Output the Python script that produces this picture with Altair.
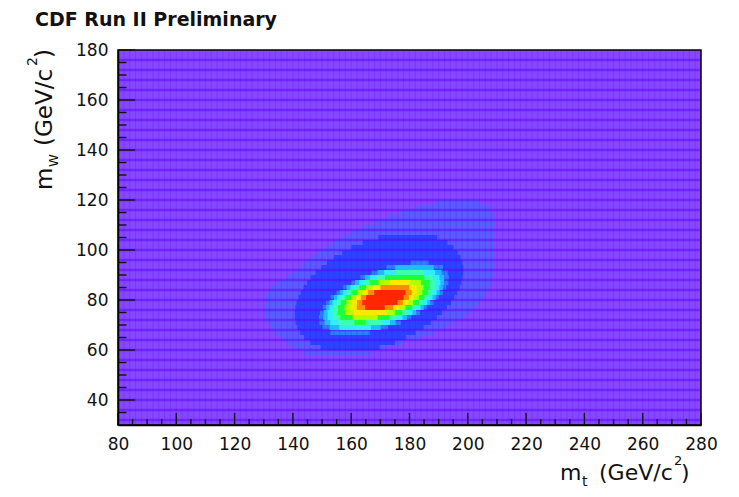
import altair as alt
import pandas as pd

# ---------------- axes ----------------
X_DOMAIN = [80, 280]
Y_DOMAIN = [30, 180]
X_LABEL_VALUES = list(range(80, 281, 20))
Y_LABEL_VALUES = list(range(40, 181, 20))
X_MINOR_TICKS = [v for v in range(85, 280, 5) if v % 20 != 0]
Y_MINOR_TICKS = [v for v in range(35, 180, 5) if v % 20 != 0]

# dark stripes of the histogram cell pattern (GeV)
STRIPE_Y = list(range(32, 180, 4))
STRIPE_X = list(range(82, 280, 2))

# ---------------- 2D likelihood bands ----------------
# each band: centre of the first 2-GeV row in m_W, then the left / right m_t edge per row
ROW_HEIGHT = 2

OUTER_FIRST = 59
OUTER_LEFT = [144, 140.5, 138, 136, 134, 132.5, 131.5, 130.8, 130.4, 130.3, 130.4,
              130.8, 131.5, 132.5, 134.5, 137.5, 140, 142.5, 144.5, 146.5, 148.5,
              151, 154, 157, 160, 164, 168, 172.5, 177, 182.5, 189]
OUTER_RIGHT = [167, 172, 178, 184, 188.5, 192.5, 195.5, 198.5, 200.5, 202.5, 204,
               205.5, 206.5, 207.3, 208, 208.5, 209, 209, 209, 209, 209,
               209, 209, 209, 209, 209, 209, 209, 208.5, 207.5, 204]

BLUE_FIRST = 61
BLUE_LEFT = [149.5, 146.0, 143.9, 142.5, 141.5, 140.9, 140.7, 140.6, 140.8, 141.2, 141.9,
             142.7, 143.7, 144.8, 146.2, 147.8, 149.7, 151.7, 154.1, 156.9, 160.1, 164.0, 169.3]
BLUE_RIGHT = [169.7, 175.0, 178.9, 182.1, 184.9, 187.3, 189.4, 191.2, 192.8, 194.2, 195.4,
              196.4, 197.2, 197.8, 198.2, 198.4, 198.4, 198.1, 197.5, 196.5, 195.1, 193.0, 189.5]

AZURE_FIRST = 67
AZURE_LEFT = [152.9, 150.1, 149.1, 148.9, 149.3, 150.2, 151.4, 153.0, 155.0, 157.3,
              160.0, 163.2, 167.0, 172.0, 180.4]
AZURE_RIGHT = [166.4, 172.6, 177.0, 180.6, 183.6, 186.1, 188.3, 190.1, 191.5, 192.6,
               193.3, 193.5, 193.1, 191.5, 186.5]

SKY_FIRST = 69
SKY_LEFT = [152.6, 150.9, 150.4, 150.6, 151.4, 152.6, 154.1, 156.1, 158.5, 161.3, 164.8, 169.1, 175.1]
SKY_RIGHT = [170.1, 175.2, 179.1, 182.3, 184.9, 187.1, 189.0, 190.4, 191.4, 191.9, 191.9, 191.0, 188.3]

CYAN_FIRST = 69
CYAN_LEFT = [155.9, 152.8, 151.9, 151.9, 152.5, 153.6, 155.2, 157.2, 159.7, 162.7, 166.4, 171.3]
CYAN_RIGHT = [166.8, 173.3, 177.6, 181.0, 183.8, 186.1, 187.9, 189.3, 190.2, 190.6, 190.3, 188.8]

AQUA_FIRST = 71
AQUA_LEFT = [155.7, 153.9, 153.6, 154.0, 155.0, 156.6, 158.6, 161.2, 164.5, 168.7, 175.2]
AQUA_RIGHT = [170.3, 175.6, 179.3, 182.3, 184.6, 186.5, 187.8, 188.7, 188.8, 188.0, 184.9]

GREEN_FIRST = 71
GREEN_LEFT = [161.1, 156.3, 155.4, 155.5, 156.5, 158.0, 160.1, 162.8, 166.4, 171.6]
GREEN_RIGHT = [165.0, 173.2, 177.5, 180.8, 183.2, 185.1, 186.4, 187.0, 186.8, 185.1]

LIME_FIRST = 73
LIME_LEFT = [160.4, 157.9, 157.7, 158.4, 159.9, 162.1, 165.1, 169.4]
LIME_RIGHT = [169.1, 175.0, 178.6, 181.3, 183.2, 184.4, 184.8, 183.9]

YELLOW_FIRST = 75
YELLOW_LEFT = [160.9, 159.8, 160.3, 161.7, 164.0, 167.4, 173.3]
YELLOW_RIGHT = [172.0, 176.5, 179.4, 181.4, 182.5, 182.5, 180.0]

ORANGE_FIRST = 77
ORANGE_LEFT = [161.9, 162.0, 163.3, 165.8, 170.0]
ORANGE_RIGHT = [174.4, 177.7, 179.8, 180.7, 179.9]

RED_FIRST = 77
RED_LEFT = [164.8, 163.8, 165.1, 167.9]
RED_RIGHT = [171.5, 175.9, 178.0, 178.6]

LEVEL_NAMES = ["outer", "blue", "azure", "sky", "cyan", "aqua", "green", "lime",
               "yellow", "orange", "red"]
LEVEL_COLORS = ["#5a5cff", "#2b44ff", "#2a80ff", "#1fbaff", "#33ecff", "#3dffb0",
                "#1cff3a", "#b0ff00", "#ffe800", "#ff8c00", "#ff2600"]

BANDS = [
    (OUTER_FIRST, OUTER_LEFT, OUTER_RIGHT),
    (BLUE_FIRST, BLUE_LEFT, BLUE_RIGHT),
    (AZURE_FIRST, AZURE_LEFT, AZURE_RIGHT),
    (SKY_FIRST, SKY_LEFT, SKY_RIGHT),
    (CYAN_FIRST, CYAN_LEFT, CYAN_RIGHT),
    (AQUA_FIRST, AQUA_LEFT, AQUA_RIGHT),
    (GREEN_FIRST, GREEN_LEFT, GREEN_RIGHT),
    (LIME_FIRST, LIME_LEFT, LIME_RIGHT),
    (YELLOW_FIRST, YELLOW_LEFT, YELLOW_RIGHT),
    (ORANGE_FIRST, ORANGE_LEFT, ORANGE_RIGHT),
    (RED_FIRST, RED_LEFT, RED_RIGHT),
]

records = []
for idx, (first, lefts, rights) in enumerate(BANDS):
    for i, (x0, x1) in enumerate(zip(lefts, rights)):
        yc = first + ROW_HEIGHT * i
        records.append({"level": LEVEL_NAMES[idx], "order": idx,
                        "x0": x0, "x1": x1,
                        "y0": yc - ROW_HEIGHT / 2, "y1": yc + ROW_HEIGHT / 2})
bands_df = pd.DataFrame(records)

# ---------------- layout ----------------
W, H = 583, 375
FONT = "DejaVu Sans"
INK = "#111111"

xs = alt.Scale(domain=X_DOMAIN, nice=False, zero=False)
ys = alt.Scale(domain=Y_DOMAIN, nice=False, zero=False)
color = alt.Color("level:N", scale=alt.Scale(domain=LEVEL_NAMES, range=LEVEL_COLORS), legend=None)

x_axis = alt.Axis(values=X_LABEL_VALUES, title=None, ticks=False, tickSize=0, grid=False,
                  domain=True, domainColor="black", domainWidth=1.5,
                  labelFont=FONT, labelFontSize=17, labelColor=INK, labelPadding=11,
                  labelFlush=False, labelOverlap=False, zindex=1)
y_axis = alt.Axis(values=Y_LABEL_VALUES, title=None, ticks=False, tickSize=0, grid=False,
                  domain=True, domainColor="black", domainWidth=1.5,
                  labelFont=FONT, labelFontSize=17, labelColor=INK, labelPadding=10,
                  labelFlush=False, labelOverlap=False, zindex=1)


def X(field):
    return alt.X(field, scale=xs, axis=x_axis)


def Y(field):
    return alt.Y(field, scale=ys, axis=y_axis)


outer_bands = alt.Chart(bands_df).transform_filter("datum.order <= 2").mark_rect(strokeWidth=0).encode(
    x=X("x0:Q"), x2="x1", y=Y("y0:Q"), y2="y1", color=color,
)
inner_bands = alt.Chart(bands_df).transform_filter("datum.order > 2").mark_rect(strokeWidth=0).encode(
    x=X("x0:Q"), x2="x1", y=Y("y0:Q"), y2="y1", color=color,
)

stripes_h = alt.Chart(pd.DataFrame({"v": STRIPE_Y})).mark_rule(
    color="#5a00ff", strokeWidth=2.5, opacity=0.5).encode(
    y=Y("v:Q"), x=alt.value(1), x2=alt.value(W - 1))
stripes_v = alt.Chart(pd.DataFrame({"v": STRIPE_X})).mark_rule(
    color="#5a00ff", strokeWidth=1.2, opacity=0.2).encode(
    x=X("v:Q"), y=alt.value(1), y2=alt.value(H - 1))


def xticks(values, length):
    return alt.Chart(pd.DataFrame({"v": values})).mark_rule(color=INK, strokeWidth=1.4).encode(
        x=X("v:Q"), y=alt.value(H), y2=alt.value(H - length))


def yticks(values, length):
    return alt.Chart(pd.DataFrame({"v": values})).mark_rule(color=INK, strokeWidth=1.4).encode(
        y=Y("v:Q"), x=alt.value(0), x2=alt.value(length))


ONE_ROW = pd.DataFrame({"k": [0]})


def label(text, x, y, size, angle=0, weight="normal"):
    return alt.Chart(ONE_ROW).mark_text(
        text=text, font=FONT, fontSize=size, fontWeight=weight, color=INK,
        align="left", baseline="alphabetic", angle=angle).encode(
        x=alt.value(x), y=alt.value(y))


texts = [
    label("CDF Run II Preliminary", -83, -24, 19, weight="bold"),
    # x title: m_t (GeV/c^2)
    label("m", 442, 430, 22),
    label("t", 464, 436, 14),
    label("(GeV/c", 481, 430, 22),
    label("2", 556, 415, 13),
    label(")", 563, 430, 22),
    # y title: m_W (GeV/c^2)
    label("m", -66, 140, 23, angle=270),
    label("W", -60, 117, 13, angle=270),
    label("(GeV/c", -66, 96, 23, angle=270),
    label("2", -81, 16, 14, angle=270),
    label(")", -66, 8, 23, angle=270),
]

chart = alt.layer(
    outer_bands, stripes_h, stripes_v, inner_bands,
    xticks(X_LABEL_VALUES, 12), xticks(X_MINOR_TICKS, 6),
    yticks(Y_LABEL_VALUES, 17), yticks(Y_MINOR_TICKS, 8.5),
    *texts,
).properties(
    width=W, height=H,
    autosize=alt.AutoSizeParams(type="none"),
    padding={"left": 110, "top": 42, "right": 22, "bottom": 64},
).configure_view(
    fill="#8648ff", stroke="black", strokeWidth=1.5,
)

chart.save("out.html", embed_options={"renderer": "svg", "actions": False})
